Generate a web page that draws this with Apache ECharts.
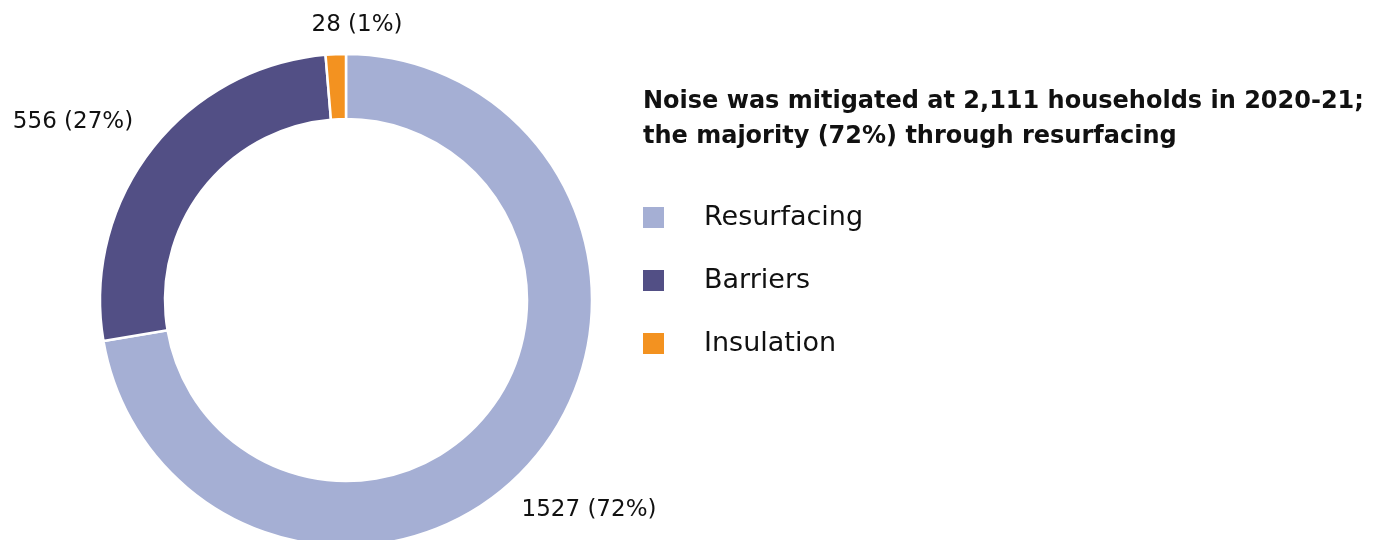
<!DOCTYPE html>
<html>
<head>
<meta charset="utf-8">
<script src="https://cdn.jsdelivr.net/npm/echarts@6/dist/echarts.min.js"></script>
<style>html,body{margin:0;padding:0;background:#fff}#c{width:1377px;height:540px}</style>
</head>
<body>
<div id="c"></div>
<script>
const categories = ['Resurfacing', 'Barriers', 'Insulation'];
const values = [1527, 556, 28];
const percents = [72, 27, 1];
const colors = ['#A5AFD4', '#524F85', '#F39220'];
const titleText = 'Noise was mitigated at 2,111 households in 2020-21;\nthe majority (72%) through resurfacing';
const labelPos = [[589, 510, 'center'], [73, 122, 'center'], [357, 25, 'center']];

const chart = echarts.init(document.getElementById('c'));
chart.setOption({
  animation: false,
  title: {
    text: titleText,
    left: 638, top: 79,
    textStyle: { fontFamily: 'DejaVu Sans', fontWeight: 'bold', fontSize: 24, lineHeight: 35, color: '#111' }
  },
  legend: {
    orient: 'vertical',
    left: 636, top: 199,
    icon: 'rect',
    itemWidth: 23, itemHeight: 23,
    itemGap: 36,
    data: categories,
    textStyle: { fontFamily: 'DejaVu Sans', fontSize: 27, lineHeight: 27, color: '#111', padding: [0, 0, 0, 34] }
  },
  series: [{
    type: 'pie',
    center: [346, 300],
    radius: [181, 246],
    startAngle: 90,
    clockwise: true,
    avoidLabelOverlap: false,
    itemStyle: { borderColor: '#fff', borderWidth: 2.5 },
    label: {
      show: true, position: 'outside',
      fontFamily: 'DejaVu Sans', fontSize: 23, color: '#111',
      formatter: p => values[p.dataIndex] + ' (' + percents[p.dataIndex] + '%)'
    },
    labelLine: { show: false },
    labelLayout: p => ({ x: labelPos[p.dataIndex][0], y: labelPos[p.dataIndex][1], align: labelPos[p.dataIndex][2], verticalAlign: 'middle' }),
    data: categories.map((c, i) => ({ name: c, value: values[i], itemStyle: { color: colors[i] } }))
  }]
});
</script>
</body>
</html>
